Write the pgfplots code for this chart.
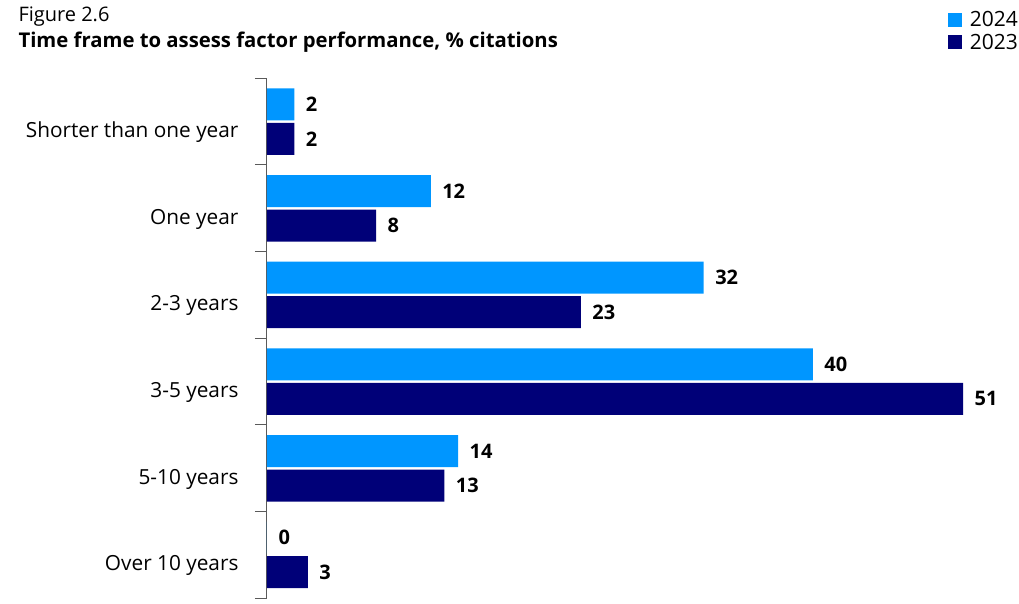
\documentclass[border=0pt]{standalone}
\usepackage{pgfplots}
\pgfplotsset{compat=1.18}
\usepackage{fontspec}
\setmainfont{Open Sans}
\definecolor{c24}{RGB}{0,150,255}
\definecolor{c23}{RGB}{0,0,120}
\definecolor{axgray}{RGB}{90,90,90}
\begin{document}
\begin{tikzpicture}[x=1pt,y=1pt]
\path[use as bounding box] (-267,-5) rectangle (752,598);
\begin{axis}[at={(0,0)}, anchor=south west, scale only axis, width=752pt, height=520pt,
 xbar, bar width=32pt, xmin=0, xmax=55.1, ymin=-0.5, ymax=5.5, y dir=reverse,
 axis x line=none, axis y line*=left,
 y axis line style={draw=axgray, line width=1pt},
 ytick={0,...,5},
 yticklabels={Shorter than one year, One year, 2-3 years, 3-5 years, 5-10 years, Over 10 years},
 major tick length=0pt,
 minor ytick={-0.5,0.5,...,5.5}, minor tick length=12pt, tick align=outside,
 minor tick style={axgray, line width=1pt},
 yticklabel style={font=\fontsize{20.8}{24}\selectfont, xshift=-25pt, yshift=-11pt},
 nodes near coords,
 nodes near coords style={font=\fontsize{20}{24}\selectfont\bfseries, anchor=west, xshift=8pt},
 /pgf/number format/assume math mode=true,
 clip=false,
 legend style={draw=none, fill=none, at={(1,1)}, anchor=south east, yshift=25pt, xshift=1pt, font=\fontsize{21}{24}\selectfont, row sep=2pt, inner sep=0pt},
 legend cell align=left,
 legend image code/.code={\fill[#1] (0pt,-7pt) rectangle (14pt,7pt); \path (20pt,0pt);},
]
\addplot[fill=c24, draw=none, bar shift=17pt] coordinates {(2,0) (12,1) (32,2) (40,3) (14,4) (0,5)};
\addplot[fill=c23, draw=none, bar shift=-17.5pt] coordinates {(2,0) (8,1) (23,2) (51,3) (13,4) (3,5)};
\legend{2024,2023}
\end{axis}
\node[anchor=base west, font=\fontsize{20}{24}\selectfont] at (-252,576) {Figure 2.6};
\node[anchor=base west, font=\fontsize{20.3}{24}\selectfont\bfseries] at (-252,550) {Time frame to assess factor performance, \% citations};
\end{tikzpicture}
\end{document}
